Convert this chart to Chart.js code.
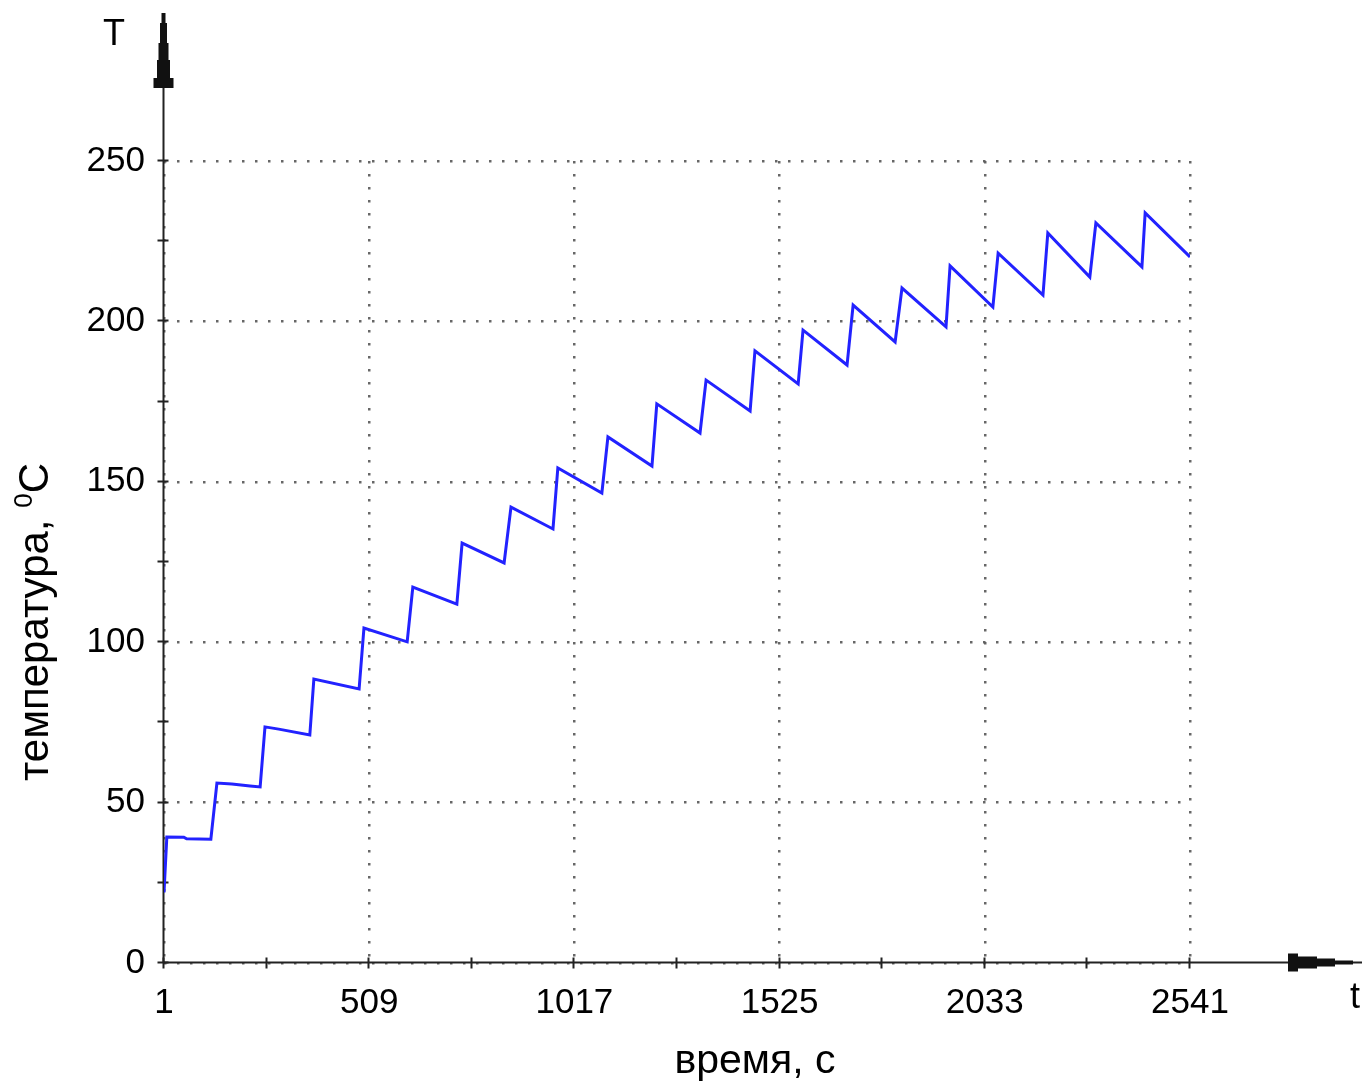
<!DOCTYPE html>
<html lang="ru">
<head>
  <meta charset="UTF-8">
  <script src="https://cdn.jsdelivr.net/npm/chart.js"></script>
  <title>температура</title>
  <style>
    body {
      margin: 0;
      padding: 0;
      background: #fff;
      overflow: hidden;
    }
    canvas {
      display: block;
    }
  </style>
</head>
<body>
  <canvas id="tempChart" width="1362" height="1086"></canvas>

  <script>
    // heating curve: time, s and temperature, °C at the turning points
    const timeS = [
      1, 8, 50, 57, 117,
      132, 169, 214, 239,
      251, 285, 362,
      372, 484,
      496, 603,
      617, 726,
      739, 843,
      860, 964,
      976, 1085,
      1100, 1209,
      1221, 1328,
      1343, 1452,
      1464, 1571,
      1583, 1692,
      1707, 1811,
      1828, 1937,
      1947, 2053,
      2066, 2177,
      2189, 2293,
      2308, 2422,
      2430, 2541
    ];
    const tempC = [
      22, 39.3, 39.2, 38.7, 38.6,
      56.1, 55.8, 55.2, 54.9,
      73.6, 72.9, 71.1,
      88.5, 85.4,
      104.4, 100.1,
      117.2, 111.9,
      130.9, 124.7,
      142.1, 135.3,
      154.3, 146.5,
      164.0, 154.9,
      174.3, 165.2,
      181.7, 172.1,
      190.8, 180.5,
      197.3, 186.4,
      205.1, 193.6,
      210.4, 198.3,
      217.3, 204.5,
      221.3, 208.2,
      227.6, 213.8,
      230.7, 217.0,
      233.8, 220.1
    ];

    const xMajorTicks = [1, 509, 1017, 1525, 2033, 2541];
    const xMinorTicks = [255, 763, 1271, 1779, 2287];
    const yMajorTicks = [0, 50, 100, 150, 200, 250];
    const yMinorTicks = [25, 75, 125, 175, 225];

    const FONT = '"Liberation Sans", Arial, sans-serif';

    function stepArrow(ctx, pts) {
      ctx.beginPath();
      pts.forEach(([x, y], i) => (i ? ctx.lineTo(x, y) : ctx.moveTo(x, y)));
      ctx.closePath();
      ctx.fill();
    }

    // axes with arrows and crossing tick marks, drawn under the curve
    const axesPlugin = {
      id: 'arrowAxes',
      beforeDatasetsDraw(chart) {
        const { ctx, scales: { x, y } } = chart;
        const x0 = Math.round(x.getPixelForValue(1)) - 0.5;
        const y0 = Math.round(y.getPixelForValue(0)) - 0.5;
        ctx.save();
        ctx.strokeStyle = '#222';
        ctx.fillStyle = '#111';
        ctx.lineWidth = 2;

        ctx.beginPath();
        ctx.moveTo(x0, y0);
        ctx.lineTo(x0, 14);
        ctx.moveTo(x0, y0);
        ctx.lineTo(1362, y0);
        ctx.stroke();

        // stepped arrow heads
        stepArrow(ctx, [
          [x0 - 2, 13], [x0 + 2, 13], [x0 + 2, 23], [x0 + 3.5, 23], [x0 + 3.5, 43],
          [x0 + 5, 43], [x0 + 5, 60], [x0 + 6.5, 60], [x0 + 6.5, 78], [x0 + 10, 78],
          [x0 + 10, 88], [x0 - 10, 88], [x0 - 10, 78], [x0 - 6.5, 78], [x0 - 6.5, 60],
          [x0 - 5, 60], [x0 - 5, 43], [x0 - 3.5, 43], [x0 - 3.5, 23], [x0 - 2, 23]
        ]);
        stepArrow(ctx, [
          [1288, y0 - 9], [1298, y0 - 9], [1298, y0 - 6], [1317, y0 - 6], [1317, y0 - 4],
          [1335, y0 - 4], [1335, y0 - 2], [1353, y0 - 2], [1353, y0 + 2], [1335, y0 + 2],
          [1335, y0 + 4], [1317, y0 + 4], [1317, y0 + 6], [1298, y0 + 6], [1298, y0 + 9],
          [1288, y0 + 9]
        ]);

        ctx.lineWidth = 2;
        ctx.beginPath();
        xMajorTicks.concat(xMinorTicks).forEach(v => {
          const px = Math.round(x.getPixelForValue(v)) - 0.5;
          ctx.moveTo(px, y0 - 5);
          ctx.lineTo(px, y0 + 6);
        });
        yMajorTicks.concat(yMinorTicks).forEach(v => {
          const py = Math.round(y.getPixelForValue(v)) - 0.5;
          ctx.moveTo(x0 - 6, py);
          ctx.lineTo(x0 + 5, py);
        });
        ctx.stroke();
        ctx.restore();
      },
      afterDraw(chart) {
        const { ctx, chartArea } = chart;
        ctx.save();
        ctx.fillStyle = '#000';
        ctx.textBaseline = 'alphabetic';

        ctx.font = '36px ' + FONT;
        ctx.textAlign = 'left';
        ctx.fillText('T', 103, 45);
        ctx.fillText('t', 1350, 1008);

        ctx.font = '41px ' + FONT;
        ctx.textAlign = 'center';
        ctx.fillText('время, с', (chartArea.left + chartArea.right) / 2 + 78, 1073);

        // rotated title with raised degree sign
        const main = 'температура, ';
        ctx.font = '42px ' + FONT;
        const wMain = ctx.measureText(main).width;
        const wC = ctx.measureText('C').width;
        ctx.font = '26px ' + FONT;
        const wSup = ctx.measureText('0').width;
        const total = wMain + wSup + wC;
        ctx.translate(48, 622);
        ctx.rotate(-Math.PI / 2);
        ctx.textAlign = 'left';
        let cx = -total / 2;
        ctx.font = '42px ' + FONT;
        ctx.fillText(main, cx, 0);
        cx += wMain;
        ctx.font = '26px ' + FONT;
        ctx.fillText('0', cx, -16);
        cx += wSup;
        ctx.font = '42px ' + FONT;
        ctx.fillText('C', cx, 0);
        ctx.restore();
      }
    };

    const points = timeS.map((t, i) => ({ x: t, y: tempC[i] }));

    const gridColor = ctx =>
      ctx.tick && ctx.tick.major ? 'rgba(95,95,95,0.95)' : 'rgba(0,0,0,0)';

    new Chart(document.getElementById('tempChart'), {
      type: 'scatter',
      data: {
        datasets: [{
          label: 'T',
          data: points,
          showLine: true,
          borderColor: '#2222ff',
          borderWidth: 3,
          pointRadius: 0,
          tension: 0
        }]
      },
      options: {
        responsive: false,
        animation: false,
        devicePixelRatio: 1,
        layout: { padding: { top: 161, right: 172, left: 0, bottom: 0 } },
        plugins: {
          legend: { display: false },
          tooltip: { enabled: false }
        },
        scales: {
          x: {
            type: 'linear',
            min: 1,
            max: 2541,
            afterBuildTicks(scale) {
              scale.ticks = xMajorTicks.concat(xMinorTicks)
                .sort((a, b) => a - b)
                .map(v => ({ value: v, major: xMajorTicks.includes(v) }));
            },
            afterFit(scale) { scale.height = 123; },
            grid: { color: gridColor, lineWidth: 2.5, drawTicks: false },
            border: { display: false, dash: [2.5, 10.5] },
            ticks: {
              autoSkip: false,
              maxRotation: 0,
              padding: 19,
              color: '#000',
              font: { family: FONT, size: 35 },
              callback: v => (xMajorTicks.includes(v) ? String(v) : '')
            }
          },
          y: {
            type: 'linear',
            min: 0,
            max: 250,
            afterBuildTicks(scale) {
              scale.ticks = yMajorTicks.concat(yMinorTicks)
                .sort((a, b) => a - b)
                .map(v => ({ value: v, major: yMajorTicks.includes(v) }));
            },
            afterFit(scale) { scale.width = 164; },
            grid: { color: gridColor, lineWidth: 2.5, drawTicks: false },
            border: { display: false, dash: [2.5, 10.5] },
            ticks: {
              autoSkip: false,
              padding: 19,
              color: '#000',
              font: { family: FONT, size: 35 },
              callback: v => (yMajorTicks.includes(v) ? String(v) : '')
            }
          }
        }
      },
      plugins: [axesPlugin]
    });
  </script>
</body>
</html>
